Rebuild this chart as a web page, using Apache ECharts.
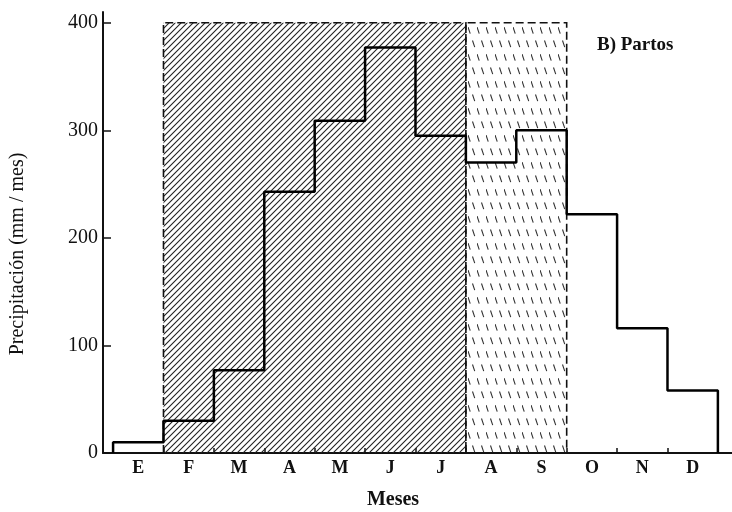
<!DOCTYPE html>
<html>
<head>
<meta charset="utf-8">
<script src="https://cdn.jsdelivr.net/npm/echarts@6/dist/echarts.min.js"></script>
<style>html,body{margin:0;padding:0;background:#fff}#c{width:732px;height:512px}</style>
</head>
<body>
<div id="c"></div>
<script>
// Data
var months = ['E','F','M','A','M','J','J','A','S','O','N','D'];
var precip = [10, 30, 77, 243, 309, 377, 295, 270, 300, 222, 116, 58];
var yTicks = [0, 100, 200, 300, 400];
// shaded periods: [startMonthIndex, endMonthIndex, top value, pattern]
var shadeStart = [1, 7];
var shadeEnd = [7, 9];
var shadeTop = [400, 400];
var shadeKind = ['dense', 'dashed'];

function makeDense() {
  var s = 6;
  var c = document.createElement('canvas');
  c.width = s; c.height = s;
  var g = c.getContext('2d');
  g.strokeStyle = '#222';
  g.lineWidth = 1.1;
  g.beginPath();
  g.moveTo(0, s); g.lineTo(s, 0);
  g.moveTo(-s/2, s/2); g.lineTo(s/2, -s/2);
  g.moveTo(s/2, s*1.5); g.lineTo(s*1.5, s/2);
  g.stroke();
  return c;
}
function makeDashed() {
  var w = 9, h = 27;
  var c = document.createElement('canvas');
  c.width = w; c.height = h;
  var g = c.getContext('2d');
  g.strokeStyle = '#333';
  g.lineWidth = 1.1;
  g.setLineDash([7, 7.23]);
  g.beginPath();
  g.moveTo(0, 0); g.lineTo(w, h);
  g.stroke();
  g.setLineDash([]);
  return c;
}
var patterns = { dense: makeDense(), dashed: makeDashed() };

var shadeData = shadeStart.map(function (s, i) { return [s, shadeEnd[i], shadeTop[i], i]; });

var lineData = [[0, 0]];
precip.forEach(function (v, i) { lineData.push([i, v]); });
lineData.push([12, precip[precip.length - 1]]);
lineData.push([12, 0]);

var serif = '"Liberation Serif", "DejaVu Serif", serif';
var chart = echarts.init(document.getElementById('c'));
chart.setOption({
  animation: false,
  backgroundColor: '#fff',
  grid: { left: 103, right: 0, top: 12, bottom: 59 },
  xAxis: {
    type: 'value', min: -0.2, max: 12.28,
    axisLine: { lineStyle: { color: '#111', width: 2 } },
    axisTick: { show: true, inside: true, length: 5, customValues: [1,2,3,4,5,6,7,8,9,10,11], lineStyle: { color: '#111', width: 1.5 } },
    axisLabel: {
      customValues: months.map(function (m, i) { return i + 0.5; }),
      formatter: function (v) { return months[Math.floor(v)]; },
      fontFamily: serif, fontSize: 18, fontWeight: 'bold', color: '#111', margin: 6
    },
    splitLine: { show: false }
  },
  yAxis: {
    type: 'value', min: 0, max: 410,
    axisLine: { show: true, onZero: false, lineStyle: { color: '#111', width: 2 } },
    axisTick: { show: true, inside: true, length: 8, customValues: yTicks, lineStyle: { color: '#111', width: 1.5 } },
    axisLabel: { customValues: yTicks, fontFamily: serif, fontSize: 20, color: '#111', margin: 5 },
    splitLine: { show: false }
  },
  graphic: [{
    type: 'text', left: 597, top: 36,
    style: { text: 'B) Partos', font: 'bold 19px ' + serif, fill: '#111' }
  }, {
    type: 'text', x: 18, y: 254, rotation: Math.PI / 2,
    style: { text: 'Precipitación (mm / mes)', font: '20px ' + serif, fill: '#111', align: 'center', verticalAlign: 'middle' }
  }, {
    type: 'text', x: 393, y: 500,
    style: { text: 'Meses', font: 'bold 20px ' + serif, fill: '#111', align: 'center', verticalAlign: 'middle' }
  }],
  series: [{
    type: 'custom',
    data: shadeData,
    z: 1,
    renderItem: function (params, api) {
      var p0 = api.coord([api.value(0), api.value(2)]);
      var p1 = api.coord([api.value(1), 0]);
      var kind = shadeKind[api.value(3)];
      return {
        type: 'group',
        children: [{
          type: 'rect',
          shape: { x: p0[0], y: p0[1], width: p1[0] - p0[0], height: p1[1] - p0[1] },
          style: { fill: { image: patterns[kind], repeat: 'repeat' }, stroke: null }
        }, {
          type: 'polyline',
          shape: { points: [[p0[0], p1[1]], [p0[0], p0[1]], [p1[0], p0[1]], [p1[0], p1[1]]] },
          style: { fill: null, stroke: '#111', lineWidth: 1.6, lineDash: [8, 4] }
        }]
      };
    }
  }, {
    type: 'line',
    data: lineData,
    step: 'end',
    symbol: 'none',
    z: 5,
    lineStyle: { color: '#000', width: 2.5 }
  }]
});
</script>
</body>
</html>
